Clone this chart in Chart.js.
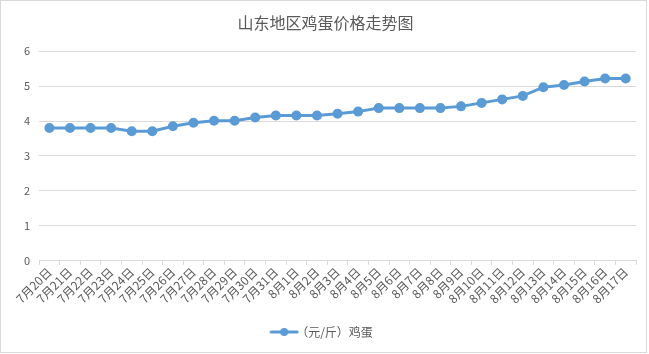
<!DOCTYPE html>
<html>
<head>
<meta charset="utf-8">
<script src="https://cdn.jsdelivr.net/npm/chart.js@4"></script>
<style>
  html, body { margin: 0; padding: 0; background: #fff; }
  #box { position: absolute; left: 0; top: 0; width: 645px; height: 351px; border: 1px solid #d9d9d9; background: #fff; }
</style>
</head>
<body>
<div id="box"><canvas id="grafico" width="645" height="351"></canvas></div>
<script>
// dados do gráfico
const dias = ['7月20日', '7月21日', '7月22日', '7月23日', '7月24日', '7月25日', '7月26日', '7月27日',
    '7月28日', '7月29日', '7月30日', '7月31日', '8月1日', '8月2日', '8月3日', '8月4日', '8月5日',
    '8月6日', '8月7日', '8月8日', '8月9日', '8月10日', '8月11日', '8月12日', '8月13日', '8月14日',
    '8月15日', '8月16日', '8月17日'];
const precos = [3.8, 3.8, 3.8, 3.8, 3.71, 3.71, 3.85, 3.95, 4.01, 4.01, 4.1, 4.16, 4.16, 4.16, 4.21,
    4.27, 4.37, 4.37, 4.37, 4.37, 4.42, 4.52, 4.62, 4.72, 4.97, 5.03, 5.13, 5.22, 5.22];
const titulo = '山东地区鸡蛋价格走势图';
const serie = '（元/斤）鸡蛋';

const azul = '#5b9bd5';
const cinza = '#595959';
const fonte = "'Noto Sans CJK SC', 'Noto Sans', sans-serif";

// marcador da legenda: linha com círculo
const marca = document.createElement('canvas');
marca.width = 30; marca.height = 10;
const mc = marca.getContext('2d');
mc.strokeStyle = azul; mc.lineWidth = 3; mc.lineCap = 'round';
mc.beginPath(); mc.moveTo(2, 5); mc.lineTo(28, 5); mc.stroke();
mc.fillStyle = azul;
mc.beginPath(); mc.arc(15, 5, 4, 0, Math.PI * 2); mc.fill();

Chart.defaults.font.family = fonte;
Chart.defaults.color = cinza;

new Chart(document.getElementById('grafico').getContext('2d'), {
    type: 'line',
    data: {
        labels: dias,
        datasets: [{
            label: serie,
            data: precos,
            borderColor: azul,
            backgroundColor: azul,
            borderWidth: 3,
            pointRadius: 3.5,
            pointBackgroundColor: azul,
            pointBorderColor: azul,
            tension: 0,
            pointStyle: 'circle'
        }]
    },
    options: {
        responsive: false,
        animation: false,
        layout: { padding: { left: 14, right: 10, top: 4, bottom: 4 } },
        scales: {
            x: {
                offset: true,
                afterFit: (eixo) => { eixo.height += 4; },
                grid: {
                    offset: true,
                    drawOnChartArea: false,
                    color: '#d9d9d9',
                    tickLength: 4
                },
                border: { color: '#d9d9d9' },
                ticks: {
                    autoSkip: false,
                    maxRotation: 45,
                    minRotation: 45,
                    padding: 0,
                    font: { size: 12 },
                    color: cinza
                }
            },
            y: {
                min: 0,
                max: 6,
                ticks: { stepSize: 1, padding: 9, font: { size: 11 }, color: cinza },
                grid: { color: '#d9d9d9', drawTicks: false },
                border: { display: false }
            }
        },
        plugins: {
            title: {
                display: true,
                text: titulo,
                color: cinza,
                font: { size: 16, weight: 'normal' },
                padding: { top: 8, bottom: 19 }
            },
            legend: {
                display: true,
                position: 'bottom',
                labels: {
                    usePointStyle: true,
                    pointStyle: marca,
                    color: cinza,
                    font: { size: 12 },
                    padding: 16
                }
            },
            tooltip: { enabled: false }
        }
    }
});
</script>
</body>
</html>
